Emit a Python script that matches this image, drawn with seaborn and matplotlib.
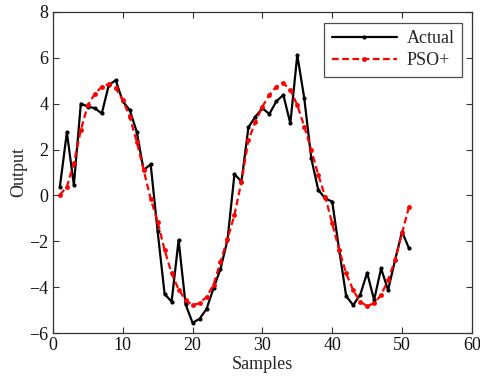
import matplotlib
matplotlib.use("Agg")
import matplotlib.pyplot as plt
import seaborn as sns
import pandas as pd

samples = list(range(1, 52))
actual = [0.38, 2.75, 0.45, 4.0, 3.87, 3.8, 3.57, 4.81, 5.02, 4.1,
          3.72, 2.78, 1.1, 1.36, -1.57, -4.3, -4.63, -1.95, -4.75, -5.55,
          -5.38, -4.95, -4.05, -3.2, -1.95, 0.93, 0.6, 2.97, 3.43, 3.8,
          3.55, 4.1, 4.38, 3.14, 6.12, 4.23, 1.62, 0.24, -0.13, -0.27,
          -2.38, -4.39, -4.78, -4.34, -3.37, -4.56, -3.18, -4.13, -2.82, -1.58,
          -2.31]
pso = [0.02, 0.38, 1.4, 2.85, 3.94, 4.42, 4.74, 4.86, 4.67, 4.16,
       3.43, 2.34, 1.1, -0.15, -1.15, -2.38, -3.4, -4.1, -4.56, -4.78,
       -4.7, -4.42, -3.9, -2.9, -1.9, -0.85, 0.6, 2.42, 3.2, 3.87,
       4.38, 4.74, 4.89, 4.6, 3.94, 3.0, 1.98, 0.9, -0.06, -1.22,
       -2.38, -3.4, -4.13, -4.63, -4.82, -4.7, -4.34, -3.69, -2.82, -1.65,
       -0.49]
xticks = [0, 10, 20, 30, 40, 50, 60]
yticks = [-6, -4, -2, 0, 2, 4, 6, 8]

df = pd.DataFrame({"Samples": samples, "Actual": actual, "PSO+": pso})

sns.set_style("white")
plt.rcParams["font.family"] = ["Liberation Serif", "DejaVu Serif"]

fig = plt.figure(figsize=(4.81, 3.82), dpi=100)
ax = fig.add_axes([0.110, 0.128, 0.871, 0.841])

sns.lineplot(data=df, x="Samples", y="Actual", ax=ax, color="black",
             linewidth=1.6, marker="o", markersize=3, markeredgewidth=0,
             label="Actual")
sns.lineplot(data=df, x="Samples", y="PSO+", ax=ax, color="#ff0000",
             linewidth=1.6, linestyle=(0, (3, 1.6)), marker="o", markersize=3.5,
             markeredgewidth=0, label="PSO+")

ax.set_xlim(0, 60)
ax.set_ylim(-6, 8)
ax.set_xticks(xticks)
ax.set_yticks(yticks)
ax.set_xlabel("Samples", fontsize=13, labelpad=1)
ax.set_ylabel("Output", fontsize=13, labelpad=2)
ax.tick_params(direction="in", length=4, width=0.8, top=True, right=True,
               bottom=True, left=True, labelsize=13, colors="#333333",
               labelcolor="#111111", pad=3)
for s in ax.spines.values():
    s.set_color("#333333")
    s.set_linewidth(0.9)
    s.set_visible(True)

leg = ax.legend(loc="upper right", fontsize=13, handlelength=3.6,
                frameon=True, fancybox=False, borderpad=0.4,
                labelspacing=0.3, handletextpad=0.55, borderaxespad=0,
                bbox_to_anchor=(0.976, 0.966))
leg.get_frame().set_edgecolor("#222222")
leg.get_frame().set_linewidth(0.9)

fig.savefig("out.png", dpi=100)
